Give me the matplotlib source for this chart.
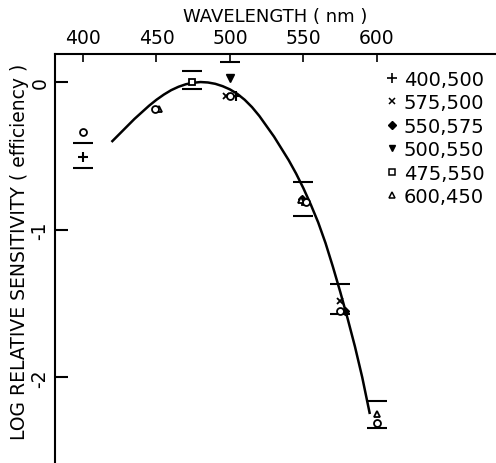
import numpy as np
import matplotlib
matplotlib.use("Agg")
import matplotlib.pyplot as plt
from matplotlib.lines import Line2D

# fitted curve
curve_wl = [420, 425, 430, 435, 440, 445, 450, 455, 460, 465, 470, 475, 480, 485, 490, 495, 500,
            505, 510, 515, 520, 525, 530, 535, 540, 545, 550, 555, 560, 565, 570, 575, 580, 585, 590, 595]
curve_log = [-0.40, -0.35, -0.30, -0.25, -0.205, -0.16, -0.12, -0.085, -0.055, -0.032, -0.015, -0.005,
             0.0, -0.003, -0.012, -0.028, -0.05, -0.08, -0.12, -0.17, -0.23, -0.30, -0.37, -0.45, -0.53,
             -0.62, -0.72, -0.83, -0.95, -1.09, -1.25, -1.42, -1.60, -1.79, -2.00, -2.24]

# data points by symbol
plus_wl, plus_log = [400, 504], [-0.51, -0.095]
x_wl, x_log = [497, 575], [-0.095, -1.48]
diam_wl, diam_log = [549, 578], [-0.79, -1.55]
tdown_wl, tdown_log = [500], [0.03]
sq_wl, sq_log = [474, 551], [0.0, -0.81]
tup_wl, tup_log = [452, 548, 600], [-0.18, -0.80, -2.25]
circ_wl, circ_log = [400, 449, 500, 552, 575, 600], [-0.34, -0.18, -0.095, -0.81, -1.55, -2.31]

# error caps
cap_wl = [400, 400, 474, 474, 500, 550, 550, 575, 575, 600, 600]
cap_log = [-0.41, -0.58, 0.075, -0.05, 0.135, -0.68, -0.91, -1.37, -1.57, -2.16, -2.34]

legend_labels = ["400,500", "575,500", "550,575", "500,550", "475,550", "600,450"]

plt.rcParams['font.family'] = ['DejaVu Sans']

fig = plt.figure(figsize=(4.96, 4.64), dpi=100)
ax = fig.add_axes([0.111, 0.0, 0.889, 0.8815])

ax.plot(curve_wl, curve_log, 'k-', lw=1.8)
ax.plot(cap_wl, cap_log, 'k_', ms=14, mew=1.5, ls='none')

ms = 5.5
ax.plot(plus_wl, plus_log, 'k+', ms=ms + 1, mew=1.5, ls='none')
ax.plot(x_wl, x_log, 'kx', ms=ms - 1, mew=1.3, ls='none')
ax.plot(diam_wl, diam_log, 'kD', ms=ms - 1, ls='none')
ax.plot(tdown_wl, tdown_log, 'kv', ms=ms, ls='none')
ax.plot(sq_wl, sq_log, 's', mfc='white', mec='k', mew=1.3, ms=ms - 0.5, ls='none')
ax.plot(tup_wl, tup_log, '^', mfc='white', mec='k', mew=1.3, ms=ms - 0.5, ls='none')
ax.plot(circ_wl, circ_log, 'o', mfc='white', mec='k', mew=1.3, ms=ms - 0.5, ls='none')

ax.set_xlim(381, 681)
ax.set_ylim(-2.58, 0.19)

for s in ['right', 'bottom']:
    ax.spines[s].set_visible(False)
for s in ['left', 'top']:
    ax.spines[s].set_linewidth(1.5)

ax.xaxis.set_ticks_position('top')
ax.xaxis.set_label_position('top')
ax.set_xticks([400, 450, 500, 550, 600])
ax.set_yticks([0, -1, -2])
ax.set_yticklabels(['0', '-1', '-2'], rotation=90, va='center')
ax.tick_params(axis='x', direction='in', length=6, width=1.2, labelsize=13.5, pad=5)
ax.tick_params(axis='y', direction='in', length=9, width=1.5, labelsize=13.5, pad=4)

ax.set_xlabel('WAVELENGTH ( nm )', fontsize=13, labelpad=5)
ax.set_ylabel('LOG RELATIVE SENSITIVITY ( efficiency )', fontsize=13.5)
ax.yaxis.set_label_coords(-0.059, 0.518)

handles = [
    Line2D([], [], color='k', marker='+', ls='none', ms=7, mew=1.2),
    Line2D([], [], color='k', marker='x', ms=5, mew=1.1, ls='none'),
    Line2D([], [], color='k', marker='D', ms=4.5, ls='none'),
    Line2D([], [], color='k', marker='v', ms=5, ls='none'),
    Line2D([], [], marker='s', mfc='white', mec='k', mew=1.1, ms=5, ls='none'),
    Line2D([], [], marker='^', mfc='white', mec='k', mew=1.1, ms=5, ls='none'),
]
ax.legend(handles, legend_labels, loc='upper right', bbox_to_anchor=(1.0, 0.99), frameon=False,
          fontsize=14, handlelength=0.6, handletextpad=0.3, labelspacing=0.23, borderaxespad=0.2)

fig.savefig('out.png', dpi=100)
